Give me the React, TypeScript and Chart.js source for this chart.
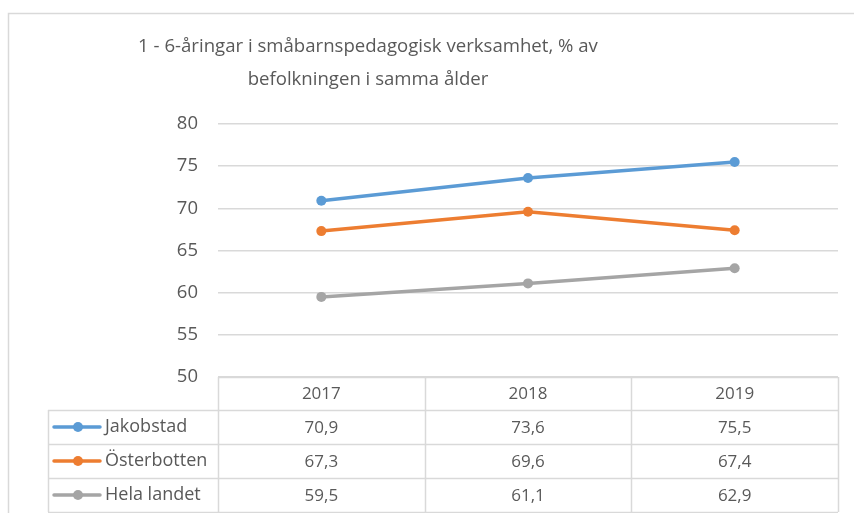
import React, { useEffect, useRef } from "react";
import { Chart, registerables } from "chart.js";

Chart.register(...registerables);

const TITLE_LINES = [
  "1 - 6-åringar i småbarnspedagogisk verksamhet, % av",
  "befolkningen i samma ålder",
];
const YEARS = ["2017", "2018", "2019"];
const SERIES_NAMES = ["Jakobstad", "Österbotten", "Hela landet"];
const JAKOBSTAD = [70.9, 73.6, 75.5];
const OSTERBOTTEN = [67.3, 69.6, 67.4];
const HELA_LANDET = [59.5, 61.1, 62.9];
const SERIES_VALUES = [JAKOBSTAD, OSTERBOTTEN, HELA_LANDET];
const SERIES_COLORS = ["#5B9BD5", "#ED7D31", "#A5A5A5"];
const Y_MIN = 50;
const Y_MAX = 80;
const Y_STEP = 5;

const FONT = "'Open Sans', 'Liberation Sans', sans-serif";
const TEXT_COLOR = "#595959";
const GRID_COLOR = "#D9D9D9";

const fmt = (v: number) => v.toFixed(1).replace(".", ",");

const extrasPlugin = {
  id: "excelExtras",
  afterDraw(chart: any) {
    const ctx: CanvasRenderingContext2D = chart.ctx;
    const area = chart.chartArea;
    const xs = chart.scales.x;
    ctx.save();

    // outer frame
    ctx.strokeStyle = GRID_COLOR;
    ctx.lineWidth = 1.5;
    ctx.beginPath();
    ctx.moveTo(8.5, 513);
    ctx.lineTo(8.5, 13.5);
    ctx.lineTo(854, 13.5);
    ctx.stroke();

    // title
    ctx.fillStyle = TEXT_COLOR;
    ctx.font = `18.6px ${FONT}`;
    ctx.textAlign = "center";
    ctx.textBaseline = "middle";
    ctx.fillText(TITLE_LINES[0], 368, 47);
    ctx.fillText(TITLE_LINES[1], 368, 80);

    // data table
    const n = YEARS.length;
    const colW = (area.right - area.left) / n;
    const top = area.bottom;
    const headerH = 33;
    const rowH = 34;
    const legendLeft = 48;
    const bottom = top + headerH + rowH * SERIES_NAMES.length;

    ctx.strokeStyle = GRID_COLOR;
    ctx.lineWidth = 1.5;
    ctx.beginPath();
    for (let i = 0; i <= n; i++) {
      const x = Math.round(area.left + i * colW) + 0.5;
      ctx.moveTo(x, top);
      ctx.lineTo(x, bottom);
    }
    ctx.moveTo(legendLeft + 0.5, top + headerH);
    ctx.lineTo(legendLeft + 0.5, bottom);
    ctx.moveTo(area.left, top + 0.5);
    ctx.lineTo(area.right, top + 0.5);
    for (let r = 0; r <= SERIES_NAMES.length; r++) {
      const y = Math.round(top + headerH + r * rowH) + 0.5;
      ctx.moveTo(legendLeft, y);
      ctx.lineTo(area.right, y);
    }
    ctx.stroke();

    ctx.fillStyle = TEXT_COLOR;
    ctx.textBaseline = "middle";
    ctx.textAlign = "center";
    ctx.font = `17px ${FONT}`;
    YEARS.forEach((yr, i) => {
      ctx.fillText(yr, xs.getPixelForValue(i), top + headerH / 2 + 1);
    });
    SERIES_NAMES.forEach((name, r) => {
      const cy = top + headerH + r * rowH + rowH / 2;
      ctx.strokeStyle = SERIES_COLORS[r];
      ctx.lineWidth = 3.5;
      ctx.lineCap = "round";
      ctx.beginPath();
      ctx.moveTo(54, cy);
      ctx.lineTo(100, cy);
      ctx.stroke();
      ctx.fillStyle = SERIES_COLORS[r];
      ctx.beginPath();
      ctx.arc(78, cy, 5, 0, Math.PI * 2);
      ctx.fill();
      ctx.fillStyle = TEXT_COLOR;
      ctx.textAlign = "left";
      ctx.font = `18px ${FONT}`;
      ctx.fillText(name, 105, cy);
      ctx.textAlign = "center";
      ctx.font = `17px ${FONT}`;
      SERIES_VALUES[r].forEach((v, i) => {
        ctx.fillText(fmt(v), xs.getPixelForValue(i), cy + 1);
      });
    });
    ctx.restore();
  },
};

export default function App() {
  const ref = useRef<HTMLCanvasElement | null>(null);
  useEffect(() => {
    if (!ref.current) return;
    const chart = new Chart(ref.current, {
      type: "line",
      data: {
        labels: YEARS,
        datasets: SERIES_NAMES.map((name, i) => ({
          label: name,
          data: SERIES_VALUES[i],
          borderColor: SERIES_COLORS[i],
          backgroundColor: SERIES_COLORS[i],
          pointBackgroundColor: SERIES_COLORS[i],
          pointBorderColor: SERIES_COLORS[i],
          borderWidth: 3.5,
          pointRadius: 5,
          pointBorderWidth: 0,
          tension: 0,
        })),
      },
      options: {
        animation: false,
        responsive: false,
        layout: { padding: { left: 0, right: 16, top: 124, bottom: 136 } },
        plugins: {
          legend: { display: false },
          tooltip: { enabled: false },
          title: { display: false },
        },
        scales: {
          x: {
            type: "category",
            offset: true,
            display: false,
          },
          y: {
            min: Y_MIN,
            max: Y_MAX,
            ticks: {
              stepSize: Y_STEP,
              color: TEXT_COLOR,
              font: { family: FONT, size: 18.5 },
              padding: 20,
            },
            grid: { color: GRID_COLOR, lineWidth: 1.5, drawTicks: false },
            border: { display: false },
            afterFit: (scale: any) => {
              scale.width = 218;
            },
          },
        },
      },
      plugins: [extrasPlugin],
    });
    return () => chart.destroy();
  }, []);
  return (
    <canvas
      ref={ref}
      width={854}
      height={513}
      style={{ position: "fixed", left: 0, top: 0, display: "block", background: "#fff" }}
    />
  );
}
